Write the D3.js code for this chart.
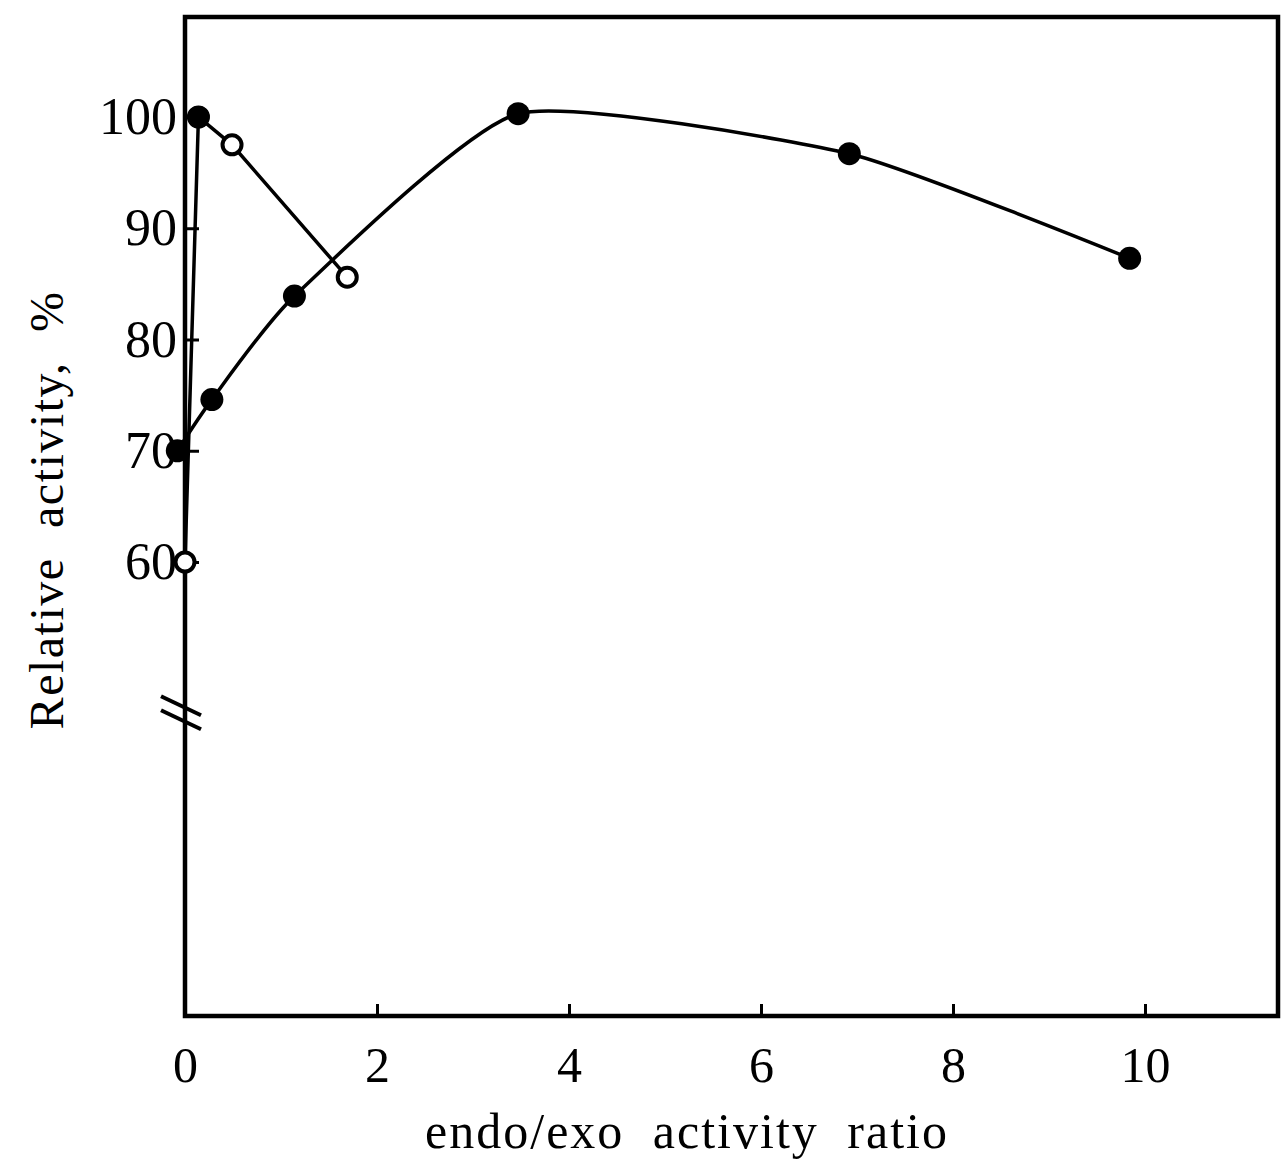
<!DOCTYPE html>
<html>
<head>
<meta charset="utf-8">
<script src="https://cdn.jsdelivr.net/npm/d3@7"></script>
<style>
  body { margin: 0; background: #fff; }
  text { font-family: "Liberation Serif", "DejaVu Serif", serif; fill: #000; }
</style>
</head>
<body>
<div id="chart"></div>
<script>
// closed circles (smooth curve)
var closedX = [-0.08, 0.28, 1.14, 3.47, 6.92, 9.84];
var closedY = [70, 74.6, 83.9, 100.3, 96.7, 87.3];
// open circles (straight segments)
var openX = [0, 0.14, 0.49, 1.69];
var openY = [60, 100, 97.5, 85.6];
// point where both symbols overlap
var overlapX = [0.14];
var overlapY = [100];

var xTicks = [0, 2, 4, 6, 8, 10];
var yTicks = [60, 70, 80, 90, 100];
var xTitle = "endo/exo activity ratio";
var yTitle = "Relative activity, %";

// plot box in pixels
var boxL = 185, boxR = 1278, boxT = 17, boxB = 1016;

var x = d3.scaleLinear().domain([0, (boxR - boxL) / 96]).range([boxL, boxR]);
var y = d3.scaleLinear().domain([100 - (boxB - 117) / 11.125, 100 + (117 - boxT) / 11.125]).range([boxB, boxT]);

var svg = d3.select('#chart').append('svg')
            .attr('width', 1285)
            .attr('height', 1163);

// frame
svg.append('rect')
   .attr('x', boxL).attr('y', boxT)
   .attr('width', boxR - boxL).attr('height', boxB - boxT)
   .attr('fill', 'none').attr('stroke', '#000').attr('stroke-width', 4.5);

// x axis ticks (inward)
var xAxis = svg.append('g').attr('transform', 'translate(0,' + boxB + ')')
               .call(d3.axisBottom(x).tickValues(xTicks).tickSize(-12).tickPadding(30));
xAxis.select('.domain').remove();
xAxis.selectAll('line').attr('stroke', '#000').attr('stroke-width', 3);
xAxis.selectAll('text').attr('font-size', '50px').attr('font-family', '"Liberation Serif", serif').attr('fill', '#000');

// y axis ticks (inward)
var yAxis = svg.append('g').attr('transform', 'translate(' + boxL + ',0)')
               .call(d3.axisLeft(y).tickValues(yTicks).tickSize(-14).tickPadding(8));
yAxis.select('.domain').remove();
yAxis.selectAll('line').attr('stroke', '#000').attr('stroke-width', 3);
yAxis.selectAll('text').attr('font-size', '52px').attr('font-family', '"Liberation Serif", serif').attr('fill', '#000');

// axis break marks
var yBreak = y(46.5);
[-6, 8].forEach(function(o){
  svg.append('line')
     .attr('x1', boxL - 24).attr('y1', yBreak + o - 10)
     .attr('x2', boxL + 16).attr('y2', yBreak + o + 9)
     .attr('stroke', '#000').attr('stroke-width', 4);
});

// closed series curve
var closedPts = closedX.map(function(d, i){ return [x(d), y(closedY[i])]; });
svg.append('path')
   .attr('d', d3.line().curve(d3.curveCardinal.tension(0.45))(closedPts))
   .attr('fill', 'none').attr('stroke', '#000').attr('stroke-width', 3.5);

// open series lines
var openPts = openX.map(function(d, i){ return [x(d), y(openY[i])]; });
svg.append('path')
   .attr('d', d3.line()(openPts))
   .attr('fill', 'none').attr('stroke', '#000').attr('stroke-width', 3.5);

// markers
svg.selectAll('.closed').data(closedPts).enter().append('circle')
   .attr('cx', function(d){ return d[0]; })
   .attr('cy', function(d){ return d[1]; })
   .attr('r', 11.5).attr('fill', '#000');

svg.selectAll('.open').data(openPts).enter().append('circle')
   .attr('cx', function(d){ return d[0]; })
   .attr('cy', function(d){ return d[1]; })
   .attr('r', 9.5).attr('fill', '#fff').attr('stroke', '#000').attr('stroke-width', 4);

svg.selectAll('.overlap').data(overlapX).enter().append('circle')
   .attr('cx', function(d){ return x(d); })
   .attr('cy', function(d, i){ return y(overlapY[i]); })
   .attr('r', 11).attr('fill', '#000');

// titles
svg.append('text')
   .attr('x', 687).attr('y', 1148)
   .attr('text-anchor', 'middle')
   .attr('font-size', '50px')
   .attr('letter-spacing', '2px')
   .attr('word-spacing', '14px')
   .text(xTitle);

svg.append('text')
   .attr('transform', 'translate(63,510) rotate(-90)')
   .attr('text-anchor', 'middle')
   .attr('font-size', '48px')
   .attr('letter-spacing', '1.5px')
   .attr('word-spacing', '16px')
   .text(yTitle);
</script>
</body>
</html>
